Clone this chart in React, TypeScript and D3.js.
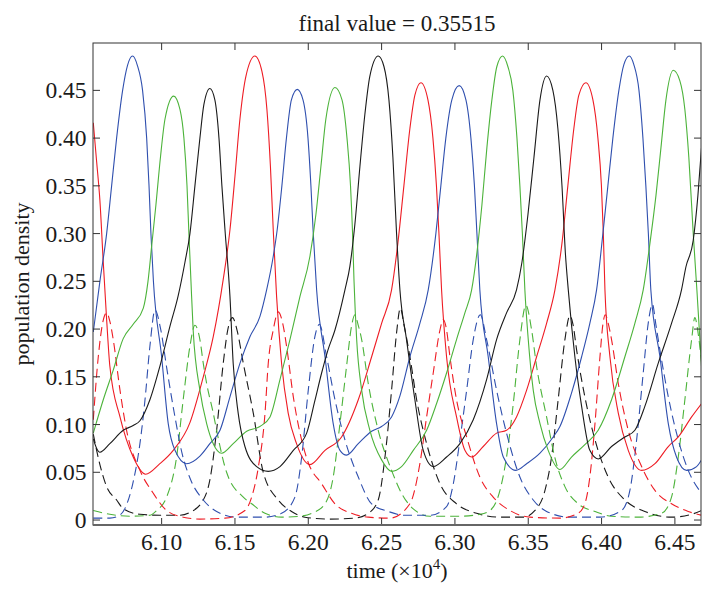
import React, { useEffect } from 'react';
import * as d3 from 'd3';

// time in units of 10^4, population density
const blueSolid: [number, number][] = [
  [6.0534, 0.197], [6.0579, 0.25], [6.0625, 0.3], [6.0659, 0.35], [6.0693, 0.4], [6.0734, 0.45],
  [6.0767, 0.476], [6.0802, 0.486], [6.0835, 0.476], [6.087, 0.45], [6.0898, 0.4], [6.0914, 0.35],
  [6.0927, 0.3], [6.0944, 0.25], [6.1, 0.171], [6.1045, 0.101], [6.1091, 0.073], [6.117, 0.059],
  [6.1261, 0.067], [6.1329, 0.08], [6.1398, 0.094], [6.1466, 0.129], [6.1534, 0.164], [6.1602, 0.192],
  [6.167, 0.213], [6.1716, 0.241], [6.1761, 0.276], [6.1788, 0.304], [6.182, 0.35], [6.1851, 0.4],
  [6.1885, 0.44], [6.1925, 0.451], [6.1964, 0.44], [6.1998, 0.4], [6.2018, 0.35], [6.2034, 0.3],
  [6.2057, 0.241], [6.2114, 0.171], [6.217, 0.101], [6.2216, 0.073], [6.2261, 0.068], [6.2341, 0.08],
  [6.2432, 0.093], [6.25, 0.098], [6.2568, 0.108], [6.2625, 0.13], [6.2693, 0.171], [6.2761, 0.206],
  [6.2818, 0.241], [6.287, 0.3], [6.2904, 0.35], [6.2938, 0.4], [6.2979, 0.44], [6.3029, 0.455],
  [6.3075, 0.44], [6.3109, 0.4], [6.3133, 0.35], [6.315, 0.3], [6.317, 0.241], [6.3227, 0.171],
  [6.3284, 0.101], [6.333, 0.066], [6.3416, 0.052], [6.3489, 0.059], [6.358, 0.07], [6.367, 0.087],
  [6.3716, 0.098], [6.3795, 0.133], [6.3864, 0.171], [6.392, 0.206], [6.3966, 0.241], [6.4009, 0.3],
  [6.4043, 0.35], [6.4077, 0.4], [6.4118, 0.45], [6.4152, 0.477], [6.4189, 0.486], [6.422, 0.477],
  [6.4255, 0.45], [6.4282, 0.4], [6.4302, 0.35], [6.4319, 0.3], [6.4336, 0.241], [6.4398, 0.171],
  [6.4455, 0.101], [6.4511, 0.066], [6.458, 0.052], [6.4648, 0.056], [6.4682, 0.063],
];

const greenSolid: [number, number][] = [
  [6.0534, 0.091], [6.0602, 0.126], [6.067, 0.157], [6.0738, 0.19], [6.0806, 0.205], [6.0875, 0.222],
  [6.0907, 0.25], [6.0932, 0.287], [6.0961, 0.33], [6.0992, 0.38], [6.1023, 0.42], [6.1082, 0.444],
  [6.1125, 0.43], [6.1152, 0.4], [6.1173, 0.35], [6.1186, 0.3], [6.12, 0.25], [6.1215, 0.199],
  [6.1261, 0.136], [6.1307, 0.101], [6.1352, 0.08], [6.1409, 0.07], [6.1488, 0.08], [6.158, 0.093],
  [6.167, 0.098], [6.1739, 0.108], [6.1807, 0.147], [6.1875, 0.189], [6.1943, 0.234], [6.2011, 0.276],
  [6.2052, 0.32], [6.2086, 0.37], [6.212, 0.42], [6.2182, 0.453], [6.223, 0.44], [6.2264, 0.4],
  [6.2288, 0.35], [6.2302, 0.3], [6.2312, 0.25], [6.233, 0.189], [6.2364, 0.136], [6.242, 0.094],
  [6.25, 0.063], [6.2568, 0.051], [6.2636, 0.056], [6.2716, 0.073], [6.2807, 0.094], [6.2875, 0.122],
  [6.2943, 0.154], [6.3011, 0.189], [6.3068, 0.217], [6.3114, 0.241], [6.315, 0.28], [6.3184, 0.33],
  [6.3218, 0.39], [6.3252, 0.44], [6.3286, 0.475], [6.3325, 0.486], [6.3361, 0.475], [6.3395, 0.45],
  [6.3423, 0.4], [6.3443, 0.35], [6.346, 0.3], [6.3477, 0.241], [6.35, 0.189], [6.3534, 0.136],
  [6.358, 0.101], [6.3636, 0.073], [6.3716, 0.053], [6.3795, 0.066], [6.3886, 0.079], [6.3977, 0.094],
  [6.4068, 0.126], [6.4159, 0.171], [6.4227, 0.206], [6.4284, 0.241], [6.433, 0.29], [6.4371, 0.34],
  [6.4405, 0.39], [6.4439, 0.44], [6.4489, 0.471], [6.4534, 0.46], [6.4568, 0.43], [6.4595, 0.38],
  [6.4625, 0.3], [6.465, 0.241], [6.4682, 0.16],
];

const blackSolid: [number, number][] = [
  [6.0534, 0.085], [6.0557, 0.075], [6.0579, 0.071], [6.0647, 0.08], [6.0738, 0.094], [6.0806, 0.099],
  [6.0852, 0.104], [6.092, 0.126], [6.0988, 0.161], [6.1057, 0.203], [6.1113, 0.235], [6.1159, 0.27],
  [6.1193, 0.3], [6.1227, 0.35], [6.1261, 0.4], [6.1288, 0.435], [6.1329, 0.452], [6.1363, 0.44],
  [6.1391, 0.4], [6.1411, 0.35], [6.1432, 0.304], [6.1466, 0.234], [6.1488, 0.164], [6.1522, 0.112],
  [6.1568, 0.077], [6.1648, 0.056], [6.1727, 0.051], [6.1807, 0.056], [6.1898, 0.073], [6.1989, 0.091],
  [6.2045, 0.125], [6.2091, 0.154], [6.2134, 0.178], [6.2182, 0.199], [6.225, 0.241], [6.2284, 0.266],
  [6.2318, 0.31], [6.2352, 0.37], [6.2386, 0.425], [6.242, 0.465], [6.2477, 0.486], [6.2516, 0.475],
  [6.255, 0.44], [6.2577, 0.38], [6.2602, 0.3], [6.2625, 0.241], [6.267, 0.189], [6.2727, 0.126],
  [6.2784, 0.073], [6.2852, 0.056], [6.2943, 0.066], [6.3034, 0.08], [6.3125, 0.105], [6.3216, 0.147],
  [6.3284, 0.189], [6.3352, 0.217], [6.342, 0.241], [6.3457, 0.27], [6.3498, 0.32], [6.3539, 0.38],
  [6.358, 0.44], [6.3625, 0.465], [6.3668, 0.45], [6.3702, 0.41], [6.373, 0.35], [6.3753, 0.28],
  [6.3773, 0.241], [6.3818, 0.171], [6.3864, 0.119], [6.392, 0.073], [6.3977, 0.064], [6.4068, 0.077],
  [6.4159, 0.087], [6.4227, 0.094], [6.4295, 0.119], [6.4386, 0.164], [6.4477, 0.206], [6.4545, 0.241],
  [6.4575, 0.265], [6.4625, 0.293], [6.4657, 0.34], [6.4682, 0.391],
];

const redSolid: [number, number][] = [
  [6.0534, 0.416], [6.0557, 0.375], [6.0579, 0.335], [6.0602, 0.27], [6.0625, 0.21], [6.0647, 0.161],
  [6.0716, 0.108], [6.0806, 0.066], [6.0891, 0.048], [6.0988, 0.059], [6.1079, 0.073], [6.1193, 0.102],
  [6.1284, 0.15], [6.1352, 0.192], [6.142, 0.252], [6.1466, 0.304], [6.15, 0.36], [6.1534, 0.42],
  [6.1575, 0.465], [6.1636, 0.486], [6.1684, 0.47], [6.1718, 0.43], [6.1742, 0.37], [6.1761, 0.304],
  [6.1784, 0.234], [6.1818, 0.164], [6.1863, 0.112], [6.192, 0.08], [6.2011, 0.058], [6.2114, 0.073],
  [6.2227, 0.087], [6.2341, 0.126], [6.2432, 0.171], [6.25, 0.206], [6.2568, 0.241], [6.2611, 0.29],
  [6.2652, 0.35], [6.2693, 0.41], [6.2727, 0.445], [6.2768, 0.458], [6.2816, 0.44], [6.285, 0.4],
  [6.2874, 0.35], [6.2891, 0.3], [6.2909, 0.241], [6.2943, 0.171], [6.3011, 0.108], [6.3068, 0.073],
  [6.3114, 0.066], [6.3193, 0.077], [6.3284, 0.091], [6.3352, 0.094], [6.342, 0.108], [6.3489, 0.136],
  [6.3557, 0.171], [6.3625, 0.206], [6.3682, 0.241], [6.373, 0.29], [6.377, 0.35], [6.3811, 0.41],
  [6.3845, 0.445], [6.3893, 0.458], [6.3941, 0.44], [6.3975, 0.4], [6.3999, 0.35], [6.4012, 0.3],
  [6.4023, 0.241], [6.4057, 0.171], [6.4114, 0.112], [6.4182, 0.073], [6.4273, 0.052], [6.4364, 0.059],
  [6.4455, 0.077], [6.4523, 0.087], [6.4614, 0.108], [6.4682, 0.122],
];

const redDashed: [number, number][] = [
  [6.0534, 0.105], [6.0568, 0.171], [6.06, 0.208], [6.0625, 0.217], [6.0647, 0.208], [6.067, 0.189],
  [6.0716, 0.136], [6.0761, 0.094], [6.0852, 0.052], [6.0943, 0.028], [6.1034, 0.01], [6.1147, 0.003],
  [6.1261, 0.001], [6.1432, 0.002], [6.1568, 0.01], [6.1614, 0.024], [6.1659, 0.055], [6.1705, 0.112],
  [6.1727, 0.164], [6.1761, 0.199], [6.1795, 0.218], [6.1827, 0.205], [6.1852, 0.182], [6.1898, 0.129],
  [6.1966, 0.077], [6.2, 0.06], [6.2091, 0.038], [6.2182, 0.017], [6.2295, 0.007], [6.2409, 0.003],
  [6.2557, 0.002], [6.2693, 0.017], [6.2761, 0.059], [6.2807, 0.108], [6.2852, 0.154], [6.2898, 0.199],
  [6.292, 0.21], [6.2942, 0.2], [6.2966, 0.171], [6.3011, 0.126], [6.308, 0.087], [6.317, 0.045],
  [6.3261, 0.024], [6.3375, 0.01], [6.3511, 0.003], [6.3716, 0.002], [6.3839, 0.007], [6.3886, 0.017],
  [6.392, 0.045], [6.3955, 0.101], [6.3989, 0.171], [6.4009, 0.205], [6.4026, 0.215], [6.4047, 0.205],
  [6.4068, 0.189], [6.4114, 0.143], [6.4182, 0.094], [6.4273, 0.056], [6.4364, 0.031], [6.4477, 0.017],
  [6.4591, 0.009], [6.4682, 0.005],
];

const blueDashed: [number, number][] = [
  [6.0534, 0.002], [6.0647, 0.002], [6.0704, 0.004], [6.0761, 0.016], [6.0806, 0.04], [6.0852, 0.08],
  [6.0886, 0.125], [6.092, 0.182], [6.0955, 0.22], [6.0992, 0.201], [6.1036, 0.158], [6.1091, 0.108],
  [6.1139, 0.07], [6.1193, 0.044], [6.1284, 0.021], [6.1375, 0.009], [6.1511, 0.003], [6.1705, 0.003],
  [6.1818, 0.007], [6.1909, 0.024], [6.1955, 0.066], [6.2, 0.136], [6.2045, 0.192], [6.2076, 0.205],
  [6.2125, 0.171], [6.2182, 0.126], [6.225, 0.084], [6.2341, 0.045], [6.2432, 0.017], [6.2545, 0.009],
  [6.2659, 0.005], [6.283, 0.005], [6.2943, 0.014], [6.2989, 0.038], [6.3034, 0.084], [6.308, 0.136],
  [6.3125, 0.189], [6.3173, 0.215], [6.3216, 0.189], [6.3284, 0.136], [6.3352, 0.091], [6.3443, 0.045],
  [6.3534, 0.021], [6.3625, 0.009], [6.3784, 0.003], [6.3989, 0.003], [6.4136, 0.01], [6.4193, 0.031],
  [6.4239, 0.084], [6.4284, 0.154], [6.4318, 0.206], [6.4347, 0.226], [6.437, 0.205], [6.4398, 0.178],
  [6.4455, 0.129], [6.4523, 0.084], [6.4591, 0.052], [6.4682, 0.028],
];

const greenDashed: [number, number][] = [
  [6.0534, 0.01], [6.0647, 0.006], [6.0784, 0.004], [6.092, 0.005], [6.0966, 0.01], [6.1034, 0.024],
  [6.1102, 0.066], [6.1147, 0.126], [6.1193, 0.182], [6.1227, 0.204], [6.1261, 0.189], [6.1284, 0.164],
  [6.1307, 0.143], [6.1352, 0.112], [6.1375, 0.094], [6.1443, 0.05], [6.1557, 0.024], [6.1614, 0.017],
  [6.1705, 0.007], [6.1818, 0.003], [6.1943, 0.004], [6.2023, 0.007], [6.2114, 0.017], [6.217, 0.045],
  [6.2216, 0.101], [6.2261, 0.161], [6.2295, 0.203], [6.2318, 0.215], [6.2339, 0.205], [6.2364, 0.189],
  [6.2409, 0.143], [6.2477, 0.094], [6.2568, 0.052], [6.2636, 0.028], [6.2714, 0.012], [6.283, 0.004],
  [6.3034, 0.004], [6.317, 0.006], [6.3239, 0.01], [6.3307, 0.031], [6.3352, 0.066], [6.3398, 0.122],
  [6.3443, 0.189], [6.3484, 0.225], [6.3523, 0.199], [6.3557, 0.161], [6.3625, 0.108], [6.3682, 0.065],
  [6.375, 0.035], [6.3841, 0.017], [6.3955, 0.009], [6.4068, 0.004], [6.425, 0.003], [6.4409, 0.007],
  [6.4477, 0.024], [6.4523, 0.066], [6.4568, 0.126], [6.4614, 0.189], [6.4636, 0.212], [6.4659, 0.195],
  [6.4682, 0.165],
];

const blackDashed: [number, number][] = [
  [6.0534, 0.09], [6.0579, 0.058], [6.0625, 0.035], [6.0693, 0.021], [6.0738, 0.012], [6.0852, 0.006],
  [6.0988, 0.005], [6.1125, 0.005], [6.1193, 0.008], [6.1284, 0.021], [6.1329, 0.042], [6.1375, 0.094],
  [6.142, 0.164], [6.1452, 0.2], [6.1483, 0.212], [6.1514, 0.199], [6.1557, 0.164], [6.1625, 0.112],
  [6.1693, 0.05], [6.1795, 0.021], [6.1886, 0.009], [6.1977, 0.003], [6.2136, 0.001], [6.2318, 0.002],
  [6.2409, 0.007], [6.2477, 0.021], [6.2523, 0.066], [6.2568, 0.136], [6.2602, 0.196], [6.2628, 0.222],
  [6.2652, 0.205], [6.2693, 0.171], [6.2739, 0.126], [6.2807, 0.08], [6.2898, 0.038], [6.3011, 0.017],
  [6.3148, 0.007], [6.3307, 0.003], [6.3466, 0.003], [6.3546, 0.01], [6.3614, 0.031], [6.3659, 0.066],
  [6.3704, 0.126], [6.375, 0.189], [6.3784, 0.214], [6.3805, 0.205], [6.383, 0.178], [6.3886, 0.129],
  [6.3955, 0.084], [6.4045, 0.045], [6.4159, 0.021], [6.4295, 0.009], [6.4477, 0.003], [6.4614, 0.006],
  [6.4682, 0.01],
];

const xTicks = [6.1, 6.15, 6.2, 6.25, 6.3, 6.35, 6.4, 6.45];
const yTicks = [0, 0.05, 0.1, 0.15, 0.2, 0.25, 0.3, 0.35, 0.4, 0.45];

const series = [
  { data: blackDashed, color: '#1a1a1a', dashed: true },
  { data: greenDashed, color: '#4cb33a', dashed: true },
  { data: blueDashed, color: '#2f4fae', dashed: true },
  { data: redDashed, color: '#ee1c24', dashed: true },
  { data: redSolid, color: '#ee1c24', dashed: false },
  { data: blueSolid, color: '#2f4fae', dashed: false },
  { data: greenSolid, color: '#4cb33a', dashed: false },
  { data: blackSolid, color: '#1a1a1a', dashed: false },
];

const W = 703;
const H = 595;
const plot = { left: 93, right: 701, top: 43, bottom: 525 };
const font = '"Liberation Serif", "Times New Roman", serif';

export default function App() {
  useEffect(() => {
    document.body.style.margin = '0';
  }, []);

  const x = d3.scaleLinear().domain([6.0532, 6.4678]).range([plot.left, plot.right]);
  const y = d3.scaleLinear().domain([-0.0052, 0.4996]).range([plot.bottom, plot.top]);

  const line = d3
    .line<[number, number]>()
    .x((d) => x(d[0]))
    .y((d) => y(d[1]))
    .curve(d3.curveMonotoneX);

  const tickLen = 7;
  const fmtY = (v: number) => (v === 0 ? '0' : d3.format('.2f')(v));

  return (
    <svg width={W} height={H} style={{ display: 'block', background: '#fff' }} fontFamily={font}>
      <defs>
        <clipPath id="plotClip">
          <rect x={plot.left} y={plot.top} width={plot.right - plot.left} height={plot.bottom - plot.top} />
        </clipPath>
      </defs>

      <text x={397} y={31} textAnchor="middle" fontSize={23} fill="#1a1a1a">
        final value = 0.35515
      </text>

      <g clipPath="url(#plotClip)">
        {series.map((s, i) => (
          <path
            key={i}
            d={line(s.data) || ''}
            fill="none"
            stroke={s.color}
            strokeWidth={1.1}
            strokeDasharray={s.dashed ? '9,5' : undefined}
          />
        ))}
      </g>

      {/* ticks on all four sides, pointing in */}
      <g stroke="#333" strokeWidth={1}>
        {xTicks.map((t) => (
          <g key={'xt' + t}>
            <line x1={x(t)} x2={x(t)} y1={plot.bottom} y2={plot.bottom - tickLen} />
            <line x1={x(t)} x2={x(t)} y1={plot.top} y2={plot.top + tickLen} />
          </g>
        ))}
        {yTicks.map((v) => (
          <g key={'yt' + v}>
            <line x1={plot.left} x2={plot.left + tickLen} y1={y(v)} y2={y(v)} />
            <line x1={plot.right} x2={plot.right - tickLen} y1={y(v)} y2={y(v)} />
          </g>
        ))}
      </g>

      <rect
        x={plot.left}
        y={plot.top}
        width={plot.right - plot.left}
        height={plot.bottom - plot.top}
        fill="none"
        stroke="#333"
        strokeWidth={1}
      />
      <line x1={plot.left} x2={plot.right} y1={plot.bottom} y2={plot.bottom} stroke="#666" strokeWidth={2} />

      <g fontSize={23.5} fill="#1a1a1a">
        {xTicks.map((t) => (
          <text key={'xl' + t} x={x(t)} y={550} textAnchor="middle">
            {t.toFixed(2)}
          </text>
        ))}
        {yTicks.map((v) => (
          <text key={'yl' + v} x={86.5} y={y(v)} dy="0.34em" textAnchor="end">
            {fmtY(v)}
          </text>
        ))}
      </g>

      <text x={397} y={578} textAnchor="middle" fontSize={22} fill="#1a1a1a">
        time (×10
        <tspan fontSize={15} dy={-9}>4</tspan>
        <tspan dy={9}>)</tspan>
      </text>

      <text
        transform={`translate(29,${(plot.top + plot.bottom) / 2}) rotate(-90)`}
        textAnchor="middle"
        fontSize={22}
        fill="#1a1a1a"
      >
        population density
      </text>
    </svg>
  );
}
